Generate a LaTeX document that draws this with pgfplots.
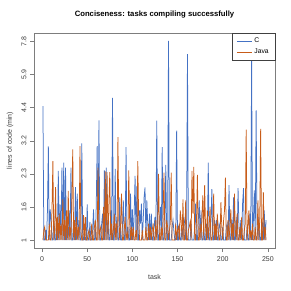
\documentclass[border=0pt]{standalone}
\usepackage{fontspec}
\setmainfont{Liberation Sans}
\usepackage{pgfplots}
\usepackage{pgfplotstable}
\pgfplotsset{compat=1.18}
\definecolor{cblue}{RGB}{68,114,196}
\definecolor{jorange}{RGB}{200,92,25}
\definecolor{axgray}{RGB}{125,125,125}
\definecolor{lblgray}{RGB}{60,60,60}
\pgfplotstableread{
x c j
1 4.05 0
2 0 0.3
3 0 0.4
4 0.3 0
5 0 0
6 0.9 0
7 2.83 0
8 0 0.5
9 0.93 0
10 0.6 0
11 0 0.9
12 0 2.39
13 0.8 0
14 0 0.3
15 0 1.6
16 0.6 0
17 0 0.7
18 2.09 0
19 0 0.8
20 1.08 0
21 0 0.5
22 2.19 0
23 0 1.23
24 2.34 0
25 0 0.6
26 2.19 0
27 0 0.9
28 0.5 0
29 0 1.49
30 0.9 0
31 0 0.4
32 2.19 0
33 0 1.2
34 0 2.74
35 0.5 0
36 0 0.6
37 1.6 0
38 0 0.7
39 1.4 0
40 0 0.4
41 0.6 0
42 0 2.84
43 0 0.3
44 2.92 0
45 0 0
46 0 0.75
47 0.3 0
48 0 0.69
49 0 0
50 1.08 0
51 0 0.2
52 0 0.3
53 0.55 0
54 0 0
55 0 0.5
56 0.3 0
57 0.93 0
58 0 0.4
59 0 0.6
60 1.05 0
61 2.84 0
62 0 2.19
63 3.62 0
64 0 0.3
65 0 0.4
66 0.5 0
67 0.8 0
68 0 1.0
69 2.11 0
70 0 2.08
71 2.19 0
72 0 2.05
73 0.6 0
74 0 1.1
75 0 2.05
76 0.9 0
77 0 0.5
78 4.3 0
79 0 0.3
80 0 0.8
81 2.15 0
82 0 0.5
83 0.7 0
84 0 3.11
85 0 0.6
86 1.29 0
87 0 0.5
88 0 1.4
89 0.4 0
90 1.2 0
91 0 0.3
92 0 0.7
93 2.81 0
94 0 0.2
95 0.4 0
96 0 2.11
97 0 0.6
98 1.4 0
99 0 0.4
100 0.93 0
101 0 0.4
102 0.8 0
103 1.94 0
104 0 0.3
105 1.64 0
106 0 2.39
107 0 0.6
108 0.9 0
109 0.5 0
110 1.1 0
111 0 0.3
112 0.6 0
113 1.3 0
114 1.59 0
115 0 0.4
116 1.2 0
117 0.5 0
118 0 0.5
119 0.8 0
120 0 0.4
121 0.8 0
122 0 0.3
123 0 0.5
124 0.4 0
125 0.7 0
126 0 0.6
127 3.61 0
128 0 0.5
129 0 2.0
130 0.5 0
131 1.0 0
132 0 0.4
133 2.81 0
134 0 0.7
135 0 2.04
136 0.5 0
137 2.27 0
138 0 0.6
139 0 0.4
140 6.02 0
141 0 0.3
142 0 0.5
143 0 2.04
144 0.4 0
145 0.6 0
146 0.25 0
147 0 0
148 0 0.5
149 3.31 0
150 0 0.3
151 0 0.4
152 0.5 0
153 0 0.9
154 0 0.6
155 0.4 0
156 0 1.23
157 0.7 0
158 0.5 0
159 0 1.2
160 0.3 0
161 5.62 0
162 0 0.3
163 0 0.4
164 0 0.55
165 0.5 0
166 0 2.09
167 0 0.8
168 0 2.21
169 0.4 0
170 1.1 0
171 0 0.6
172 0 1.97
173 0.6 0
174 1.2 0
175 0 0.5
176 0.9 0
177 0 0.7
178 0 1.35
179 0.4 0
180 0 1.66
181 0 0.4
182 0.5 0
183 0 0.9
184 2.34 0
185 0 0.4
186 0 1.0
187 0.6 0
188 1.54 0
189 0 0.3
190 0 1.4
191 0.6 0
192 0 0.5
193 0.6 0
194 0 0.8
195 0 0.3
196 0.5 0
197 0.4 0
198 0 1.15
199 0 0.4
200 0.4 0
201 0 0.6
202 0 0.9
203 0 1.89
204 0.4 0
205 0.5 0
206 0 0.6
207 1.66 0
208 0 0.4
209 0 0.93
210 0.6 0
211 0 0.5
212 1.29 0
213 0 1.4
214 0 0.3
215 0.7 0
216 0 0.8
217 1.57 0
218 0.4 0
219 0 0.4
220 0.6 0
221 0 0.7
222 1.1 0
223 1.57 0
224 0 0.3
225 0 0.5
226 0 3.34
227 0.4 0
228 0 0.4
229 0 0.9
230 0.8 0
231 0 0.3
232 5.5 0
233 0 0.5
234 0.6 0
235 1.5 0
236 0 0.4
237 3.92 0
238 0.5 0
239 0 1.2
240 0.7 0
241 0 0.6
242 0 3.36
243 0.4 0
244 0.5 0
245 0 1.45
246 0.9 0
247 0 0.4
248 0.6 0
}\data
\begin{document}
\begin{tikzpicture}
\begin{axis}[
  scale only axis, width=241pt, height=215pt,
  xmin=-8.9, xmax=257.9, ymin=-0.24, ymax=6.26,
  xtick={0,50,...,250},
  ytick={0,1,2,3,4,5,6},
  yticklabels={1,1.6,2.3,3.2,4.4,5.9,7.8},
  /pgf/number format/assume math mode=true,
  tick pos=left, tick align=outside, major tick length=4pt,
  axis line style={axgray, line width=0.6pt},
  tick style={axgray, line width=0.6pt},
  ticklabel style={font=\fontsize{7}{8}\selectfont, text=lblgray},
  yticklabel style={rotate=90, anchor=south},
  xticklabel style={yshift=-1.5pt},
  xlabel={task}, ylabel={lines of code (min)},
  label style={font=\fontsize{7}{8}\selectfont, text=lblgray},
  xlabel style={at={(axis description cs:0.5,-0.135)}, anchor=center},
  ylabel style={at={(axis description cs:-0.0996,0.5)}, anchor=center},
  every axis title shift=0pt,
  title={Conciseness: tasks compiling successfully},
  title style={font=\bfseries\fontsize{7.7}{9}\selectfont, at={(axis description cs:0.5,1.088)}, anchor=center},
  legend style={at={(1,1)}, anchor=north east, draw=black!75, line width=0.5pt,
    font=\fontsize{6.8}{8}\selectfont, inner xsep=4pt, inner ysep=3pt, row sep=0.5pt},
  legend cell align=left,
  legend image code/.code={\draw[#1, line width=0.9pt] (0pt,0pt) -- (15pt,0pt);},
]
\addplot[cblue, line width=0.75pt] table[x=x,y=c]{\data};
\addplot[jorange, line width=0.75pt] table[x=x,y=j]{\data};
\legend{C,Java}
\end{axis}
\pgfresetboundingbox
\path[use as bounding box] ([shift={(-34pt,-43pt)}]current axis.south west) rectangle ([shift={(16pt,33pt)}]current axis.north east);
\end{tikzpicture}
\end{document}
